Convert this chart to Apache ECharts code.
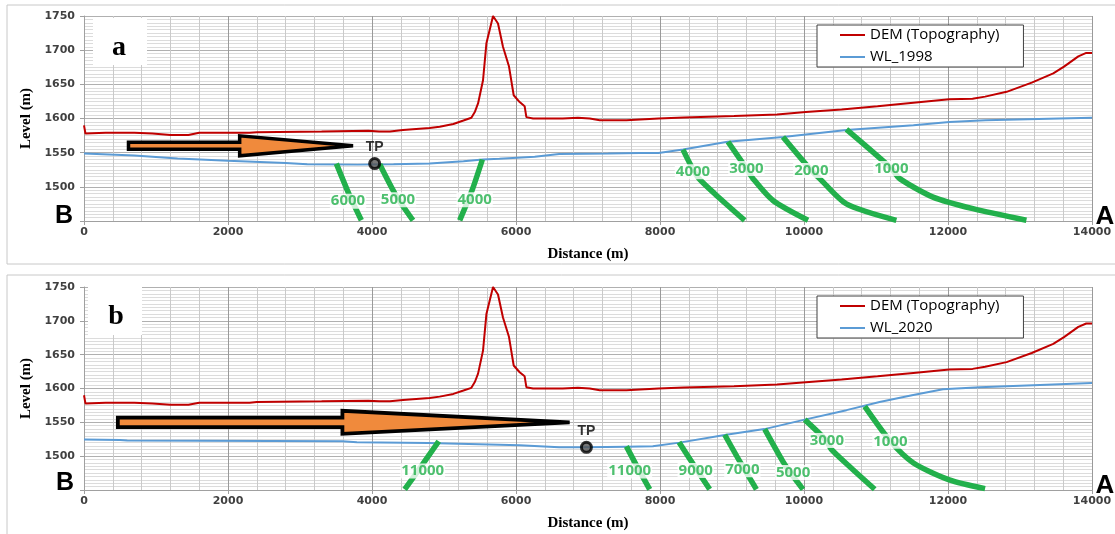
<!DOCTYPE html>
<html>
<head>
<meta charset="utf-8">
<script src="https://cdn.jsdelivr.net/npm/echarts@6/dist/echarts.min.js"></script>
<style>
html,body{margin:0;padding:0;background:#fff}
#main{width:1115px;height:534px}
</style>
</head>
<body>
<div id="main"></div>
<script>
// topography profile (same in both panels)
var demData = [[0,1590],[20,1578],[300,1579],[700,1579],[950,1578],[1200,1576],[1450,1576],[1600,1579],[2300,1579],[2400,1580],
  [3300,1581],[3950,1582],[4100,1581],[4250,1581],[4430,1583],[4660,1585],[4800,1586],[4940,1588],[5130,1592],[5270,1597],
  [5380,1601],[5430,1610],[5473,1622],[5542,1656],[5589,1710],[5635,1730],[5681,1750],[5750,1739],[5819,1705],[5903,1676],
  [5968,1634],[6051,1624],[6120,1618],[6144,1602],[6237,1600],[6650,1600],[6860,1601],[7024,1600],[7163,1597.5],[7534,1597.5],
  [7982,1600],[8331,1601.6],[9028,1603.5],[9626,1606],[10025,1609.4],[10523,1613.3],[11021,1618],[11519,1623],[12017,1628],
  [12341,1629],[12515,1632],[12814,1639],[13163,1652.5],[13462,1666],[13611,1676],[13810,1691],[13920,1696],[14000,1696]];

// water level 1998
var wl1998 = [[0,1548.6],[700,1546],[1300,1541.6],[2000,1538],[2800,1535],[3100,1533],[3800,1532.5],[4300,1533],[4800,1534],
  [5270,1537.5],[5540,1540],[5770,1541],[6260,1544],[6600,1548],[7280,1548.6],[7720,1549.6],[7980,1549.6],[8320,1554.5],
  [8940,1566],[9710,1573],[10590,1583],[11520,1590],[12020,1595],[12520,1597.5],[13550,1600],[14000,1601]];

// water level 2020
var wl2020 = [[0,1524.5],[500,1524],[600,1523],[3590,1522],[3790,1520.5],[4780,1519.5],[5770,1517],[6050,1516],[6600,1513],
  [6980,1513],[7530,1514],[7900,1514.5],[8270,1520],[8920,1531.7],[9450,1540],[10010,1554],[10590,1568],[11050,1580],
  [11500,1590],[11930,1599],[12440,1602],[13370,1605.5],[14000,1608]];

// green lines panel a
var isoNamesA = ['6000','5000','4000','4000','3000','2000','1000'];
var isoLinesA = [
  [[3505,1534],[3690,1487],[3852,1451]],
  [[4107,1533],[4330,1488],[4569,1451]],
  [[5533,1540],[5390,1495],[5218,1451]],
  [[8319,1554.5],[8520,1515],[8760,1490],[9176,1451]],
  [[8944,1566],[9200,1527],[9292,1512],[9569,1480],[10056,1451]],
  [[9708,1573],[10102,1524],[10218,1512],[10589,1475],[11283,1451]],
  [[10589,1584],[11213,1527],[11329,1512],[11792,1485],[12347,1468],[13089,1451]]
];
var isoLabelA = [[3667,1479],[4361,1481],[5426,1481],[8458,1522],[9200,1527],[10102,1524],[11213,1527]];

// green lines panel b
var isoNamesB = ['11000','11000','9000','7000','5000','3000','1000'];
var isoLinesB = [
  [[4927,1522],[4690,1486],[4454,1451]],
  [[7533,1514.5],[7700,1481],[7857,1451]],
  [[8264,1520.4],[8480,1485],[8690,1451]],
  [[8899,1531.7],[9120,1490],[9339,1451]],
  [[9454,1540],[9708,1492],[9850,1470],[9986,1451]],
  [[10010,1554],[10311,1523],[10380,1510],[10681,1480],[10982,1451]],
  [[10843,1573.5],[11200,1522],[11520,1490],[12018,1465],[12515,1452]]
];
var isoLabelB = [[4704,1478],[7579,1478],[8496,1479],[9144,1480],[9848,1476],[10317,1523],[11200,1522]];

// turning points
var tpA = [4037, 1534];
var tpB = [6978, 1513];

// arrows: tail x, head start x, tip x, level
var arrowA = [618, 2162, 3737, 1560];
var arrowB = [470, 3589, 6745, 1550];

var GREEN = '#22b04b';
var dom = document.getElementById('main');
var myChart = echarts.init(dom);

function xAx(i) {
  return {
    type: 'value', gridIndex: i, min: 0, max: 14000, interval: 2000,
    name: 'Distance (m)', nameLocation: 'middle', nameGap: 26,
    nameTextStyle: {fontFamily: 'Liberation Serif', fontWeight: 'bold', fontSize: 15, color: '#000'},
    axisLine: {lineStyle: {color: '#a0a0a0'}},
    axisTick: {show: true, length: 4, lineStyle: {color: '#a0a0a0'}},
    axisLabel: {margin: 6, fontFamily: 'DejaVu Sans', fontWeight: 'bold', fontSize: 11, color: '#404040',
      formatter: function (v) { return String(v); }},
    splitLine: {show: true, lineStyle: {color: '#9a9a9a', width: 1}},
    minorTick: {show: false, splitNumber: 5},
    minorSplitLine: {show: true, lineStyle: {color: '#cacaca', width: 1}}
  };
}
function yAx(i) {
  return {
    type: 'value', gridIndex: i, min: 1450, max: 1750, interval: 50,
    name: 'Level (m)', nameLocation: 'middle', nameGap: 43,
    nameTextStyle: {fontFamily: 'Liberation Serif', fontWeight: 'bold', fontSize: 15, color: '#000'},
    axisLine: {show: true, lineStyle: {color: '#a0a0a0'}},
    axisTick: {show: true, length: 4, lineStyle: {color: '#a0a0a0'}},
    axisLabel: {margin: 9, fontFamily: 'DejaVu Sans', fontWeight: 'bold', fontSize: 11, color: '#404040',
      formatter: function (v) { return v === 1450 ? '' : String(v); }},
    splitLine: {show: true, lineStyle: {color: '#b0b0b0', width: 1}},
    minorTick: {show: false, splitNumber: 10},
    minorSplitLine: {show: true, lineStyle: {color: '#dcdcdc', width: 1}}
  };
}

function arrowRender(shaftHalf, headHalf, lw) {
  return function (params, api) {
    var y = api.value(3);
    var p0 = api.coord([api.value(0), y]);
    var p1 = api.coord([api.value(1), y]);
    var p2 = api.coord([api.value(2), y]);
    var cy = p0[1];
    return {
      type: 'polygon',
      shape: {points: [[p0[0], cy - shaftHalf], [p1[0], cy - shaftHalf], [p1[0], cy - headHalf], [p2[0], cy],
        [p1[0], cy + headHalf], [p1[0], cy + shaftHalf], [p0[0], cy + shaftHalf]]},
      style: {fill: '#f08a3c', stroke: '#000', lineWidth: lw, lineJoin: 'miter', miterLimit: 3}
    };
  };
}

function panelSeries(i, wl, wlName, lines, labels, names, tp, arrow, sh, hh, lw) {
  var out = [];
  out.push({name: 'DEM (Topography)', type: 'line', xAxisIndex: i, yAxisIndex: i, data: demData,
    symbol: 'none', lineStyle: {color: '#c00000', width: 2}, itemStyle: {color: '#c00000'}, z: 3});
  out.push({name: wlName, type: 'line', xAxisIndex: i, yAxisIndex: i, data: wl,
    symbol: 'none', lineStyle: {color: '#5b9bd5', width: 2}, itemStyle: {color: '#5b9bd5'}, z: 3});
  for (var k = 0; k < lines.length; k++) {
    out.push({type: 'line', xAxisIndex: i, yAxisIndex: i, data: lines[k], smooth: 0.25, symbol: 'none',
      lineStyle: {color: GREEN, width: 5.5}, z: 4, silent: true});
  }
  out.push({type: 'scatter', xAxisIndex: i, yAxisIndex: i, symbolSize: 0, z: 6,
    data: labels.map(function (p, j) { return {value: p, name: names[j]}; }),
    label: {show: true, position: 'inside', formatter: '{b}', color: GREEN, fontFamily: 'Open Sans',
      fontWeight: 'bold', fontSize: 15, backgroundColor: '#fff', padding: [0, 1]}});
  out.push({type: 'custom', xAxisIndex: i, yAxisIndex: i, data: [arrow], z: 7,
    encode: {x: [0, 1, 2], y: 3}, renderItem: arrowRender(sh, hh, lw)});
  out.push({type: 'scatter', xAxisIndex: i, yAxisIndex: i, data: [tp], symbol: 'circle', symbolSize: 10, z: 8,
    itemStyle: {color: '#555', borderColor: '#000', borderWidth: 3},
    label: {show: true, position: 'top', distance: 3, formatter: 'TP', fontFamily: 'Liberation Sans',
      fontWeight: 'bold', fontSize: 14, color: '#000'}});
  return out;
}

function legendFor(top, names) {
  return {
    data: names, left: 817, top: top, orient: 'vertical', itemWidth: 25, itemHeight: 14, itemGap: 6,
    padding: [2, 24, 2, 23], borderColor: '#404040', borderWidth: 1, backgroundColor: '#fff',
    selectedMode: false, icon: 'path://M0,6 L25,6 L25,8 L0,8 Z',
    textStyle: {fontFamily: 'Open Sans', fontSize: 15, color: '#000', lineHeight: 16}
  };
}

option = {
  animation: false,
  grid: [
    {left: 84, top: 16, width: 1008, height: 205},
    {left: 84, top: 287, width: 1008, height: 203}
  ],
  xAxis: [xAx(0), xAx(1)],
  yAxis: [yAx(0), yAx(1)],
  legend: [legendFor(25, ['DEM (Topography)', 'WL_1998']), legendFor(296, ['DEM (Topography)', 'WL_2020'])],
  graphic: [
    {type: 'rect', shape: {x: 7, y: 5, width: 1130, height: 259}, style: {fill: 'none', stroke: '#c8c8c8', lineWidth: 1}, z: -1},
    {type: 'rect', shape: {x: 7, y: 275, width: 1130, height: 280}, style: {fill: 'none', stroke: '#c8c8c8', lineWidth: 1}, z: -1},
    {type: 'rect', shape: {x: 93, y: 18, width: 54, height: 47}, style: {fill: '#fff'}, z: 99},
    {type: 'rect', shape: {x: 88, y: 286, width: 54, height: 49}, style: {fill: '#fff'}, z: 99},
    {type: 'text', x: 119, y: 48, z: 100, style: {text: 'a', font: 'bold 28px "Liberation Serif"', fill: '#000', align: 'center', verticalAlign: 'middle'}},
    {type: 'text', x: 116, y: 317, z: 100, style: {text: 'b', font: 'bold 28px "Liberation Serif"', fill: '#000', align: 'center', verticalAlign: 'middle'}},
    {type: 'text', x: 64, y: 216, z: 100, style: {text: 'B', font: 'bold 25px "Liberation Sans"', fill: '#000', align: 'center', verticalAlign: 'middle'}},
    {type: 'text', x: 1105, y: 217, z: 100, style: {text: 'A', font: 'bold 26px "Liberation Sans"', fill: '#000', align: 'center', verticalAlign: 'middle'}},
    {type: 'text', x: 65, y: 483, z: 100, style: {text: 'B', font: 'bold 25px "Liberation Sans"', fill: '#000', align: 'center', verticalAlign: 'middle'}},
    {type: 'text', x: 1105, y: 486, z: 100, style: {text: 'A', font: 'bold 26px "Liberation Sans"', fill: '#000', align: 'center', verticalAlign: 'middle'}}
  ],
  series: panelSeries(0, wl1998, 'WL_1998', isoLinesA, isoLabelA, isoNamesA, tpA, arrowA, 3.5, 10, 3.5)
    .concat(panelSeries(1, wl2020, 'WL_2020', isoLinesB, isoLabelB, isoNamesB, tpB, arrowB, 4.8, 11.5, 3.8))
};

if (option && typeof option === "object") {
  myChart.setOption(option, true);
}
</script>
</body>
</html>
